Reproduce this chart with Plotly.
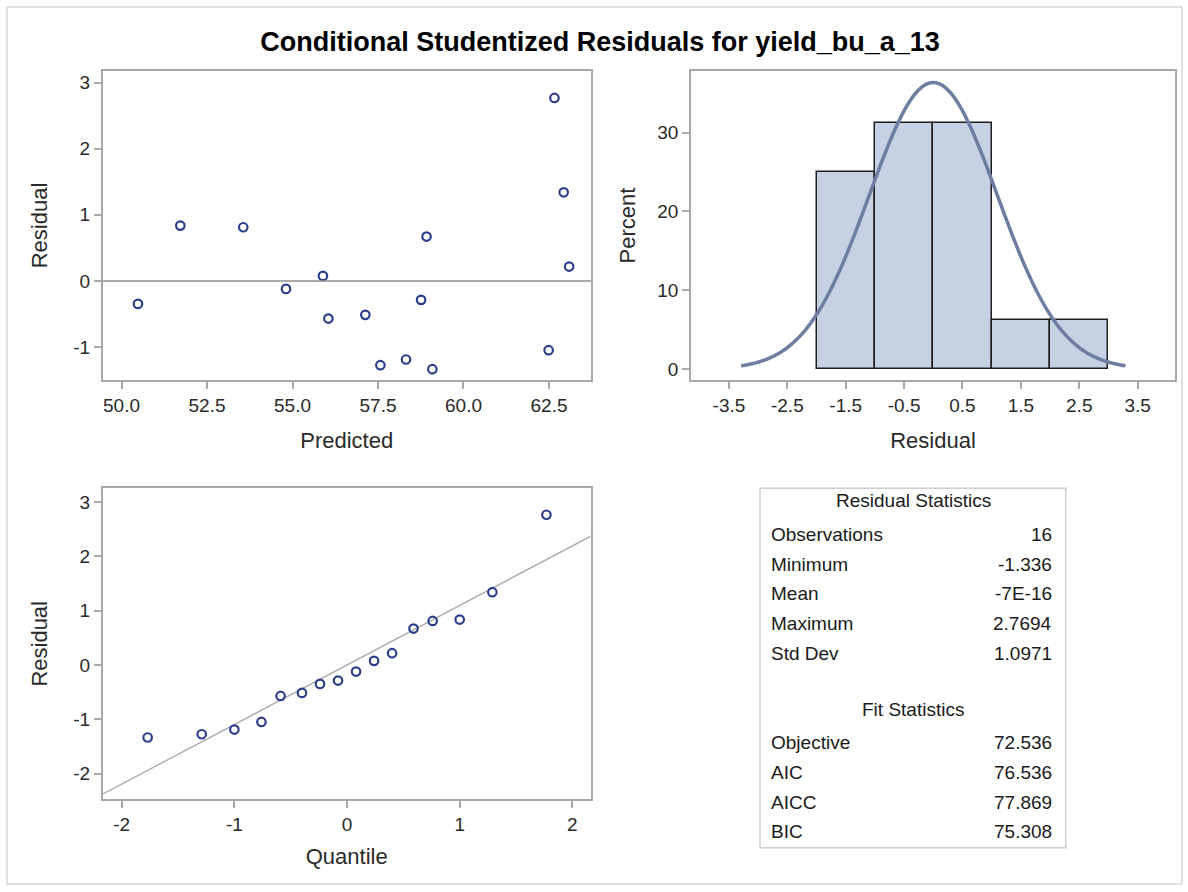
import numpy as np
import plotly.graph_objects as go

# ---- data ----
predicted = [50.48, 51.72, 53.56, 54.81, 55.89, 56.05, 57.13, 57.57,
             58.32, 58.76, 58.92, 59.09, 62.49, 62.66, 62.93, 63.09]
residual = [-0.348, 0.837, 0.812, -0.121, 0.076, -0.570, -0.514, -1.276,
            -1.190, -0.287, 0.671, -1.336, -1.049, 2.769, 1.341, 0.217]
quantile = [-1.77, -1.29, -1.00, -0.76, -0.59, -0.40, -0.24, -0.08,
            0.08, 0.24, 0.40, 0.59, 0.76, 1.00, 1.29, 1.77]
resid_mean = 0.0
resid_std = 1.0971

res_stat_labels = ["Observations", "Minimum", "Mean", "Maximum", "Std Dev"]
res_stat_values = ["16", "-1.336", "-7E-16", "2.7694", "1.0971"]
fit_stat_labels = ["Objective", "AIC", "AICC", "BIC"]
fit_stat_values = ["72.536", "76.536", "77.869", "75.308"]

pred_ticks = [50, 52.5, 55, 57.5, 60, 62.5]
pred_ticklabels = ["50.0", "52.5", "55.0", "57.5", "60.0", "62.5"]
resid_ticks = [-1, 0, 1, 2, 3]
resid_ticklabels = ["-1", "0", "1", "2", "3"]
hist_ticks = [-3.5, -2.5, -1.5, -0.5, 0.5, 1.5, 2.5, 3.5]
hist_ticklabels = ["-3.5", "-2.5", "-1.5", "-0.5", "0.5", "1.5", "2.5", "3.5"]
pct_ticks = [0, 10, 20, 30]
q_ticks = [-2, -1, 0, 1, 2]
q_ticklabels = ["-2", "-1", "0", "1", "2"]
qres_ticks = [-2, -1, 0, 1, 2, 3]
qres_ticklabels = ["-2", "-1", "0", "1", "2", "3"]

W, H = 1188, 892
FONT = "Arial, Liberation Sans, sans-serif"
MARK = "#2E3F8A"
FRAME = "#A8A8A8"
TXT = "#2a2a2a"


def px(x):
    return x / W


def py(y):
    return 1 - y / H


fig = go.Figure()

# scatter: residual vs predicted
fig.add_trace(go.Scatter(x=predicted, y=residual, mode="markers",
                         marker=dict(symbol="circle-open", size=8.5, color=MARK,
                                     line=dict(width=2.2, color=MARK)),
                         xaxis="x", yaxis="y", showlegend=False))

# histogram
fig.add_trace(go.Histogram(x=residual, xbins=dict(start=-2, end=3, size=1),
                           histnorm="percent",
                           marker=dict(color="#C6D2E4", line=dict(color="#1e1e1e", width=1.5)),
                           xaxis="x2", yaxis="y2", showlegend=False))
# fitted normal density (percent scale, bin width 1)
xs = np.linspace(-3 * resid_std, 3 * resid_std, 161)
dens = 100 * np.exp(-0.5 * ((xs - resid_mean) / resid_std) ** 2) / (resid_std * np.sqrt(2 * np.pi))
fig.add_trace(go.Scatter(x=xs, y=dens, mode="lines",
                         line=dict(color="#6E7EA2", width=3.5, shape="spline"),
                         xaxis="x2", yaxis="y2", showlegend=False))

# QQ plot
qx = np.array([-2.169, 2.163])
fig.add_trace(go.Scatter(x=qx, y=resid_mean + resid_std * qx, mode="lines",
                         line=dict(color="#B0B0B0", width=1.5),
                         xaxis="x3", yaxis="y3", showlegend=False))
fig.add_trace(go.Scatter(x=quantile, y=sorted(residual), mode="markers",
                         marker=dict(symbol="circle-open", size=8.5, color=MARK,
                                     line=dict(width=2.2, color=MARK)),
                         xaxis="x3", yaxis="y3", showlegend=False))

axis_common = dict(showline=True, mirror=True, linecolor=FRAME, linewidth=1.5,
                   ticks="outside", ticklen=7, tickwidth=1.5, tickcolor=FRAME,
                   showgrid=False, zeroline=False,
                   tickfont=dict(family=FONT, size=19, color=TXT),
                   title_font=dict(family=FONT, size=22, color=TXT))

fig.update_layout(
    width=W, height=H,
    margin=dict(l=0, r=0, t=0, b=0),
    paper_bgcolor="white", plot_bgcolor="white",
    bargap=0,
    title=dict(text="<b>Conditional Studentized Residuals for yield_bu_a_13</b>",
               x=px(600), xanchor="center", y=py(42), yanchor="middle",
               font=dict(family=FONT, size=27, color="black")),
    xaxis=dict(domain=[px(102.7), px(590.7)], range=[49.45, 63.72], anchor="y",
               tickvals=pred_ticks, ticktext=pred_ticklabels,
               title=dict(text="Predicted", standoff=18), **axis_common),
    yaxis=dict(domain=[py(380), py(71)], range=[-1.5, 3.177], anchor="x",
               tickvals=resid_ticks, ticktext=resid_ticklabels,
               title=dict(text="Residual", standoff=20), **axis_common),
    xaxis2=dict(domain=[px(691), px(1175)], range=[-4.15, 4.14], anchor="y2",
                tickvals=hist_ticks, ticktext=hist_ticklabels,
                title=dict(text="Residual", standoff=18), **axis_common),
    yaxis2=dict(domain=[py(380), py(71)], range=[-1.4, 37.83], anchor="x2",
                tickvals=pct_ticks,
                title=dict(text="Percent", standoff=16), **axis_common),
    xaxis3=dict(domain=[px(102.7), px(590.7)], range=[-2.169, 2.163], anchor="y3",
                tickvals=q_ticks, ticktext=q_ticklabels,
                title=dict(text="Quantile", standoff=15), **axis_common),
    yaxis3=dict(domain=[py(799.3), py(488.3)], range=[-2.475, 3.256], anchor="x3",
                tickvals=qres_ticks, ticktext=qres_ticklabels,
                title=dict(text="Residual", standoff=20), **axis_common),
)

shapes = [
    # page border
    dict(type="rect", xref="paper", yref="paper", x0=px(7), x1=px(1182), y0=py(884), y1=py(7),
         line=dict(color="#D8D8D8", width=1.5), layer="below"),
    # zero reference line in residual-vs-predicted
    dict(type="line", xref="x domain", yref="y", x0=0, x1=1, y0=0, y1=0,
         line=dict(color="#8C8C8C", width=1.5)),
    # statistics table box
    dict(type="rect", xref="paper", yref="paper", x0=px(760), x1=px(1065.7), y0=py(847.7), y1=py(488.3),
         line=dict(color="#CFCFCF", width=1.5)),
]

annotations = []
tfont = dict(family=FONT, size=19, color="#1a1a1a")
annotations.append(dict(text="Residual Statistics", xref="paper", yref="paper", x=px(913), y=py(500.7),
                        xanchor="center", yanchor="middle", showarrow=False, font=tfont))
res_rows_y = [534.3, 564.0, 593.7, 623.7, 653.3]
for lab, val, yy in zip(res_stat_labels, res_stat_values, res_rows_y):
    annotations.append(dict(text=lab, xref="paper", yref="paper", x=px(769), y=py(yy),
                            xanchor="left", yanchor="middle", showarrow=False, font=tfont))
    annotations.append(dict(text=val, xref="paper", yref="paper", x=px(1054), y=py(yy),
                            xanchor="right", yanchor="middle", showarrow=False, font=tfont))
annotations.append(dict(text="Fit Statistics", xref="paper", yref="paper", x=px(912.5), y=py(709.3),
                        xanchor="center", yanchor="middle", showarrow=False, font=tfont))
fit_rows_y = [742.7, 772.7, 802.3, 831.7]
for lab, val, yy in zip(fit_stat_labels, fit_stat_values, fit_rows_y):
    annotations.append(dict(text=lab, xref="paper", yref="paper", x=px(769), y=py(yy),
                            xanchor="left", yanchor="middle", showarrow=False, font=tfont))
    annotations.append(dict(text=val, xref="paper", yref="paper", x=px(1054), y=py(yy),
                            xanchor="right", yanchor="middle", showarrow=False, font=tfont))

fig.update_layout(shapes=shapes, annotations=annotations)

fig.write_html("out.html")
